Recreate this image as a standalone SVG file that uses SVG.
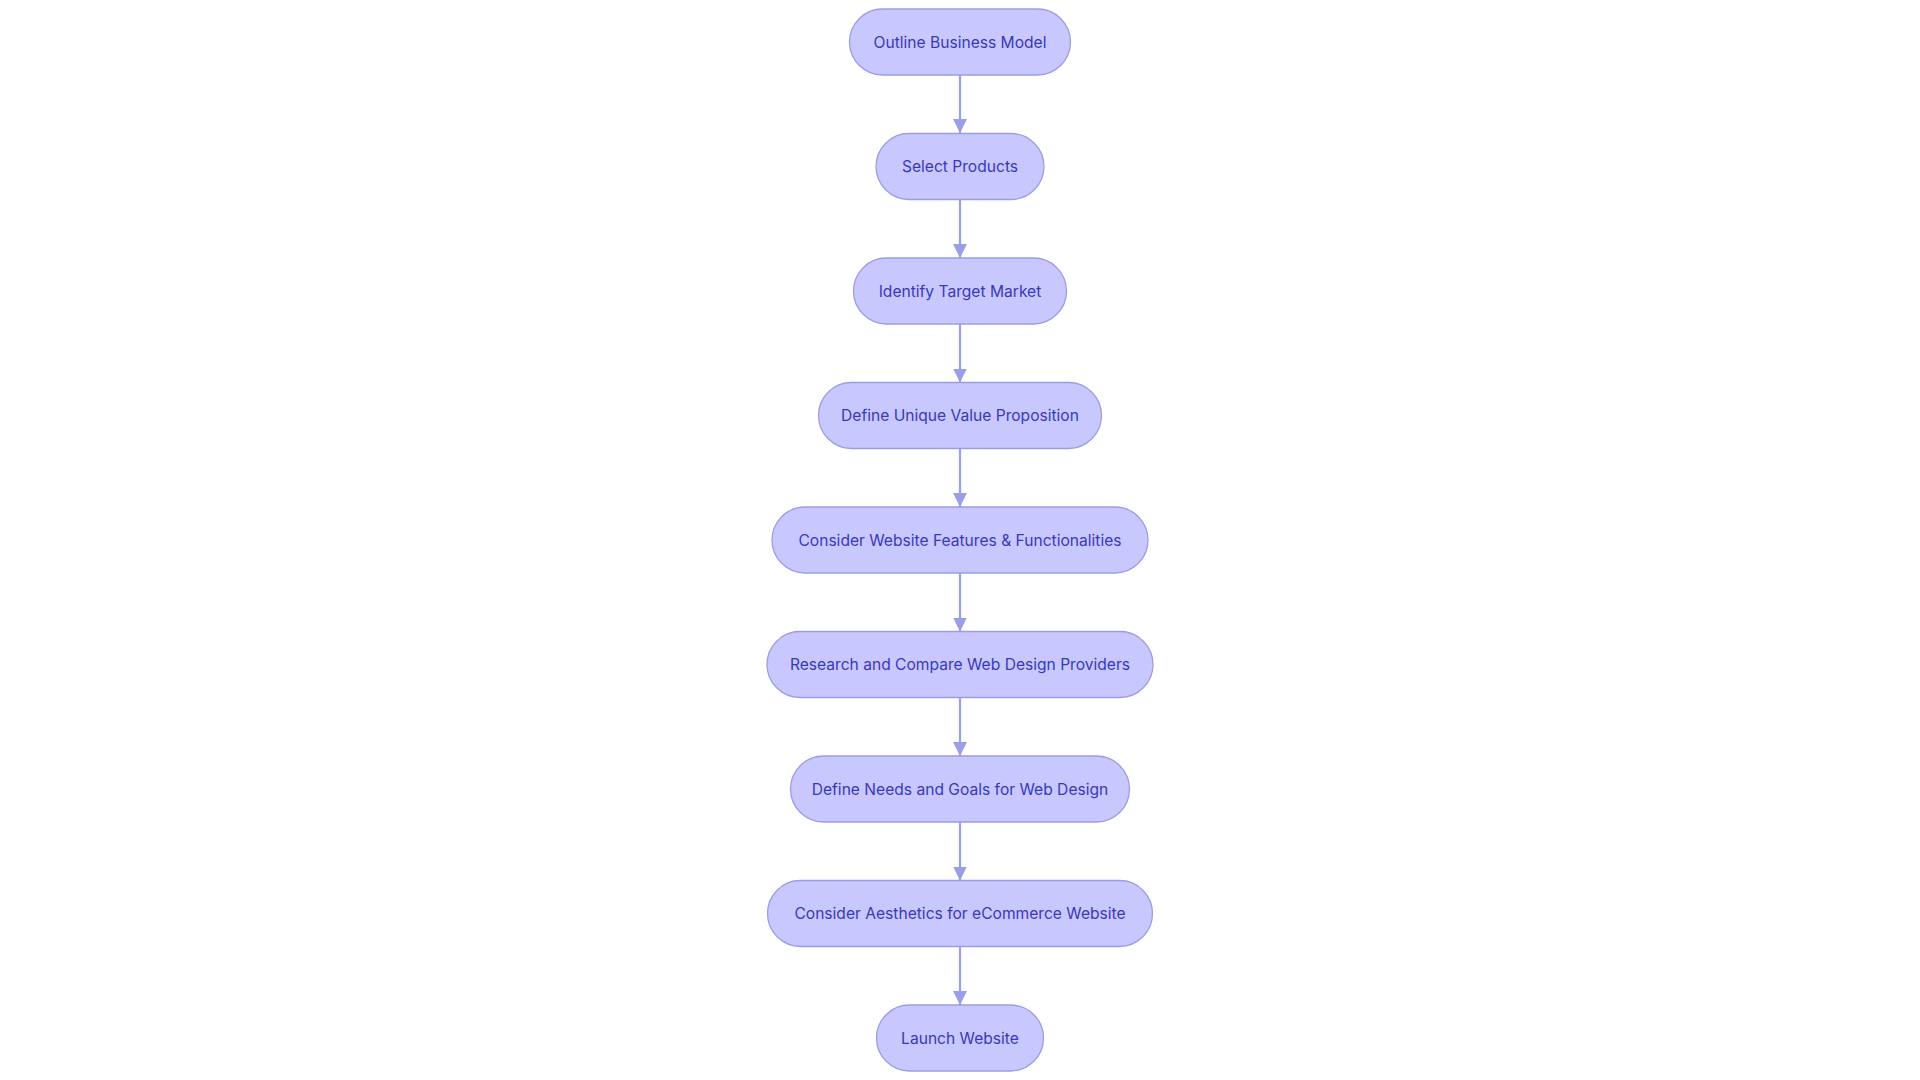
<svg xmlns="http://www.w3.org/2000/svg" width="1920" height="1080" viewBox="0 0 1920 1080">
<defs>
<style>
.node rect{fill:#c8c8fe;stroke:#9c9ce6;stroke-width:1.3}
.node text{font-family:Inter,"Noto Sans",sans-serif;font-size:15.6px;font-weight:400;fill:#3838bc;text-anchor:middle;dominant-baseline:central}
.edges line{stroke:#9a9ee8;stroke-width:2.2}
</style>
<marker id="arr" viewBox="0 0 14 14" refX="14" refY="7" markerWidth="14" markerHeight="14" markerUnits="userSpaceOnUse" orient="auto">
<path d="M0,0 L14,7 L0,14 z" fill="#9a9ee8"/>
</marker>
</defs>
<rect width="1920" height="1080" fill="#ffffff"/>
<g class="edges">
<line x1="960" y1="75" x2="960" y2="133" marker-end="url(#arr)"/>
<line x1="960" y1="199.5" x2="960" y2="258" marker-end="url(#arr)"/>
<line x1="960" y1="324" x2="960" y2="382.5" marker-end="url(#arr)"/>
<line x1="960" y1="448.5" x2="960" y2="507" marker-end="url(#arr)"/>
<line x1="960" y1="573" x2="960" y2="631.5" marker-end="url(#arr)"/>
<line x1="960" y1="697.5" x2="960" y2="756" marker-end="url(#arr)"/>
<line x1="960" y1="822" x2="960" y2="880.5" marker-end="url(#arr)"/>
<line x1="960" y1="946.5" x2="960" y2="1005" marker-end="url(#arr)"/>
</g>
<g id="n1" class="node"><rect x="849.5" y="9" width="221" height="66" rx="33"/><text x="960" y="42">Outline Business Model</text></g>
<g id="n2" class="node"><rect x="876" y="133.5" width="168" height="66" rx="33"/><text x="960" y="166.5">Select Products</text></g>
<g id="n3" class="node"><rect x="853.5" y="258" width="213" height="66" rx="33"/><text x="960" y="291">Identify Target Market</text></g>
<g id="n4" class="node"><rect x="818.5" y="382.5" width="283" height="66" rx="33"/><text x="960" y="415.5">Define Unique Value Proposition</text></g>
<g id="n5" class="node"><rect x="772" y="507" width="376" height="66" rx="33"/><text x="960" y="540">Consider Website Features &amp; Functionalities</text></g>
<g id="n6" class="node"><rect x="767" y="631.5" width="386" height="66" rx="33"/><text x="960" y="664.5">Research and Compare Web Design Providers</text></g>
<g id="n7" class="node"><rect x="790.5" y="756" width="339" height="66" rx="33"/><text x="960" y="789">Define Needs and Goals for Web Design</text></g>
<g id="n8" class="node"><rect x="767.5" y="880.5" width="385" height="66" rx="33"/><text x="960" y="913.5">Consider Aesthetics for eCommerce Website</text></g>
<g id="n9" class="node"><rect x="876.5" y="1005" width="167" height="66" rx="33"/><text x="960" y="1038">Launch Website</text></g>
</svg>
